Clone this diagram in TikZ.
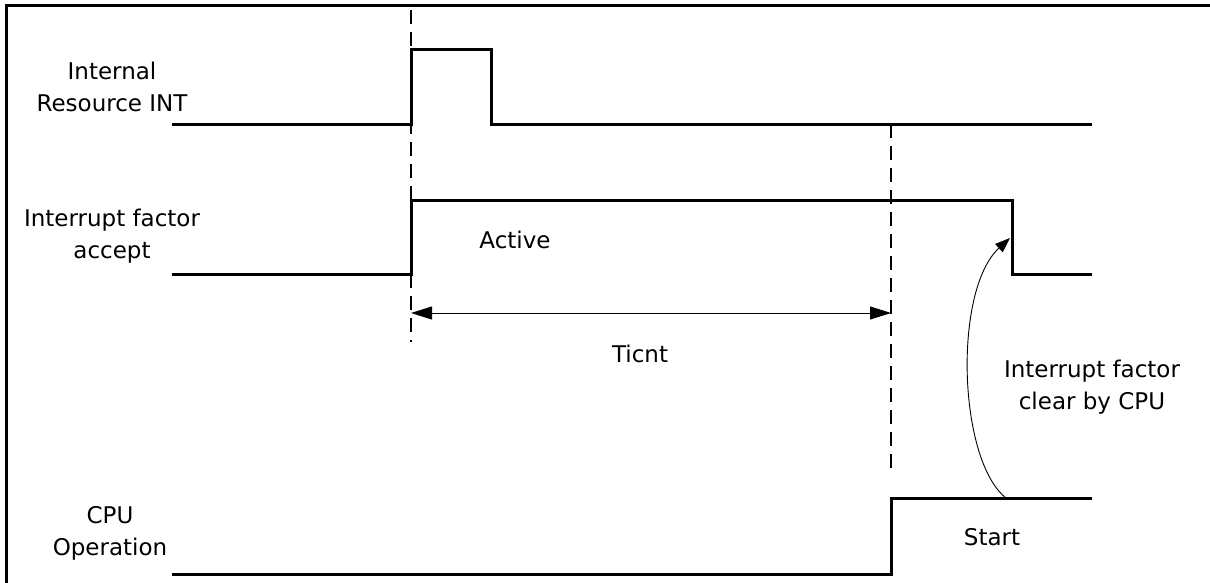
\documentclass[tikz,border=0pt]{standalone}
\usepackage{fontspec}
\setmainfont{DejaVu Sans}
\usetikzlibrary{arrows.meta}
\begin{document}
\begin{tikzpicture}[x=1pt,y=-1pt,
  sig/.style={line width=3pt,line join=miter},
  frame/.style={line width=3pt},
  guide/.style={line width=1.8pt,dash pattern=on 14pt off 8pt},
  dim/.style={line width=1pt,{Triangle[length=21pt,width=13pt]}-{Triangle[length=21pt,width=13pt]}},
  curvearrow/.style={line width=0.9pt,-{Triangle[length=15pt,width=11pt]}},
  lbl/.style={font=\fontsize{23}{32}\selectfont,align=center,inner sep=0pt}]
\useasboundingbox (0,0) rectangle (1210,582);
% frame (top and left edges)
\draw[frame] (6,1210) coordinate (fbl) -- (6,5) coordinate (ftl) -- (1212,5) coordinate (ftr);
% key coordinates
\coordinate (d1t) at (411,10);
\coordinate (d1b) at (411,342);
\coordinate (d2t) at (891,124);
\coordinate (d2b) at (891,475);
% guides
\draw[guide] (d1t) -- (d1b);
\draw[guide] (d2t) -- (d2b);
% Internal Resource INT
\draw[sig] (172,124) coordinate (a0) -- (411,124) -- (411,49) -- (491,49) -- (491,124) -- (1092,124) coordinate (a1);
% Interrupt factor accept
\draw[sig] (172,274) coordinate (b0) -- (411,274) -- (411,200) -- (1012,200) -- (1012,274) -- (1092,274) coordinate (b1);
% CPU operation
\draw[sig] (172,574) coordinate (c0) -- (891,574) -- (891,498) -- (1092,498) coordinate (c1);
% Ticnt dimension
\coordinate (t0) at (411,313);
\coordinate (t1) at (891,313);
\draw[dim] (t0) -- (t1);
% clear curve
\coordinate (cs) at (1006,498);
\coordinate (ce) at (1010,238);
\draw[curvearrow] (cs) .. controls (958,460) and (953,290) .. (ce);
% labels
\node[lbl] (l1) at (112,87) {Internal\\Resource INT};
\node[lbl] (l2) at (112,236) {Interrupt factor\\accept};
\node[lbl] (l3) at (110,533) {CPU\\Operation};
\node[lbl] (act) at (515,240) {Active};
\node[lbl] (tic) at (640,354) {Ticnt};
\node[lbl] (st) at (992,537) {Start};
\node[lbl] (clr) at (1092,387) {Interrupt factor\\clear by CPU};
\end{tikzpicture}
\end{document}
